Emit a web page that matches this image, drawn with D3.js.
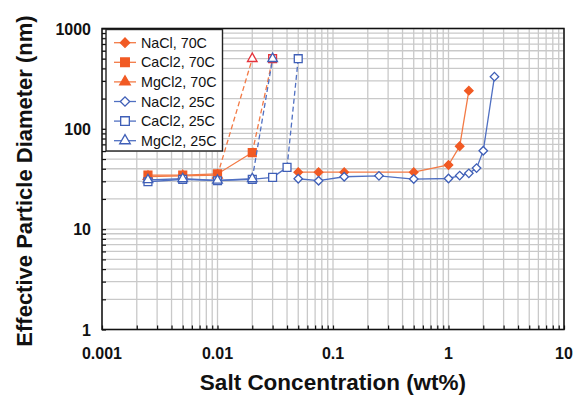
<!DOCTYPE html>
<html>
<head>
<meta charset="utf-8">
<script src="https://cdn.jsdelivr.net/npm/d3@7/dist/d3.min.js"></script>
<style>
  html, body { margin: 0; padding: 0; background: #fff; }
  svg { display: block; font-family: "Liberation Sans", Arial, sans-serif; }
</style>
</head>
<body>
<svg id="chart" width="583" height="396"></svg>
<script>
// Salt concentration (wt%) and effective particle diameter (nm) per series
const naclX70 = [0.05, 0.075, 0.125, 0.5, 1.0, 1.25, 1.5];
const naclY70 = [37, 37, 37, 37, 43.6, 67, 240];

const caclX70 = [0.0025, 0.005, 0.01, 0.02, 0.03];
const caclY70 = [34.5, 34.5, 35.5, 58, 500];

const mgclX70 = [0.0025, 0.005, 0.01, 0.02];
const mgclY70 = [33.5, 34, 34.5, 500];

const naclX25 = [0.05, 0.075, 0.125, 0.25, 0.5, 1.0, 1.25, 1.5, 1.75, 2.0, 2.5];
const naclY25 = [31.8, 30.4, 33.3, 34, 31.6, 32, 34.2, 36, 40.6, 60.5, 331];

const caclX25 = [0.0025, 0.005, 0.01, 0.02, 0.03, 0.04, 0.05];
const caclY25 = [29.7, 31.4, 30.4, 31.4, 32.8, 41.3, 500];

const mgclX25 = [0.0025, 0.005, 0.01, 0.02, 0.03];
const mgclY25 = [31, 31.8, 30.6, 31.8, 500];

const legendLabels = ["NaCl, 70C", "CaCl2, 70C", "MgCl2, 70C", "NaCl2, 25C", "CaCl2, 25C", "MgCl2, 25C"];
const xTickValues = [0.001, 0.01, 0.1, 1, 10];
const xTickLabels = ["0.001", "0.01", "0.1", "1", "10"];
const yTickValues = [1, 10, 100, 1000];
const yTickLabels = ["1", "10", "100", "1000"];

const ORANGE = "#f15a24";
const ORANGE_LINE = "#f37a45";
const RED_OPEN = "#e5333b";
const BLUE = "#3f5fb7";
const BLUE_LINE = "#5070c2";

// series styling: dashedFrom = index of first point of the dashed jump segment
const series = [
  { x: naclX70, y: naclY70, label: legendLabels[0], shape: "diamond", filled: true,  color: ORANGE, line: ORANGE_LINE, dashedFrom: null, openLast: false },
  { x: caclX70, y: caclY70, label: legendLabels[1], shape: "square",  filled: true,  color: ORANGE, line: ORANGE_LINE, dashedFrom: 3, openLast: true },
  { x: mgclX70, y: mgclY70, label: legendLabels[2], shape: "triangle",filled: true,  color: ORANGE, line: ORANGE_LINE, dashedFrom: 2, openLast: true },
  { x: naclX25, y: naclY25, label: legendLabels[3], shape: "diamond", filled: false, color: BLUE,   line: BLUE_LINE,   dashedFrom: null, openLast: false },
  { x: caclX25, y: caclY25, label: legendLabels[4], shape: "square",  filled: false, color: BLUE,   line: BLUE_LINE,   dashedFrom: 5, openLast: false },
  { x: mgclX25, y: mgclY25, label: legendLabels[5], shape: "triangle",filled: false, color: BLUE,   line: BLUE_LINE,   dashedFrom: 3, openLast: false }
];

const svg = d3.select("#chart");
const L = 102, R = 564, T = 28.5, B = 329.5;

const x = d3.scaleLog().domain([0.001, 10]).range([L, R]);
const y = d3.scaleLog().domain([1, 1000]).range([B, T]);

// minor positions 1..9 per decade
function minorValues(lo, hi) {
  const out = [];
  for (let d = lo; d < hi; d *= 10) {
    for (let k = 1; k <= 9; k++) out.push(d * k);
  }
  out.push(hi);
  return out;
}
const xMinor = minorValues(0.001, 10);
const yMinor = minorValues(1, 1000);

// grid
const grid = svg.append("g").attr("stroke", "#c9c9c9").attr("stroke-width", 1.3);
grid.selectAll("line.v").data(xMinor).join("line")
  .attr("x1", d => x(d)).attr("x2", d => x(d)).attr("y1", T).attr("y2", B);
grid.selectAll("line.h").data(yMinor).join("line")
  .attr("y1", d => y(d)).attr("y2", d => y(d)).attr("x1", L).attr("x2", R);

// axes with inward ticks, labels drawn separately
const xAxis = svg.append("g").attr("transform", `translate(0,${B})`)
  .call(d3.axisTop(x).tickValues(xMinor).tickSize(4).tickFormat(""));
xAxis.select(".domain").remove();
xAxis.selectAll(".tick line").attr("stroke", "#111").attr("stroke-width", 1.2);

const yAxis = svg.append("g").attr("transform", `translate(${L},0)`)
  .call(d3.axisRight(y).tickValues(yMinor).tickSize(4).tickFormat(""));
yAxis.select(".domain").remove();
yAxis.selectAll(".tick line").attr("stroke", "#111").attr("stroke-width", 1.2);

// frame
svg.append("rect").attr("x", L).attr("y", T).attr("width", R - L).attr("height", B - T)
  .attr("fill", "none").attr("stroke", "#111").attr("stroke-width", 1.5);

// tick labels
svg.append("g").selectAll("text").data(xTickValues).join("text")
  .attr("x", d => x(d)).attr("y", 359)
  .attr("text-anchor", "middle").attr("font-size", 16).attr("font-weight", "bold").attr("fill", "#111")
  .text((d, i) => xTickLabels[i]);
svg.append("g").selectAll("text").data(yTickValues).join("text")
  .attr("x", 91).attr("y", d => y(d) + 6)
  .attr("text-anchor", "end").attr("font-size", 16).attr("font-weight", "bold").attr("fill", "#111")
  .text((d, i) => yTickLabels[i]);

// axis titles
svg.append("text").attr("x", 333).attr("y", 390).attr("text-anchor", "middle")
  .attr("font-size", 22.5).attr("font-weight", "bold").attr("fill", "#111")
  .text("Salt Concentration (wt%)");
svg.append("text").attr("transform", "translate(32,181) rotate(-90)").attr("text-anchor", "middle")
  .attr("font-size", 22).attr("font-weight", "bold").attr("fill", "#111")
  .text("Effective Particle Diameter (nm)");

// marker shapes
function markerPath(shape, scale) {
  const s = scale || 1;
  if (shape === "diamond") return d3.symbol(d3.symbolSquare, 36 * s * s)();
  if (shape === "square") return d3.symbol(d3.symbolSquare, 62 * s * s)();
  return d3.symbol(d3.symbolTriangle, 40 * s * s)();
}
function markerTransform(shape, px, py) {
  return shape === "diamond" ? `translate(${px},${py}) rotate(45)` : `translate(${px},${py})`;
}

const plot = svg.append("g");
series.forEach(s => {
  const pts = s.x.map((v, i) => [x(v), y(s.y[i])]);
  const cut = s.dashedFrom === null ? pts.length : s.dashedFrom + 1;
  const line = d3.line();
  plot.append("path").attr("d", line(pts.slice(0, cut)))
    .attr("fill", "none").attr("stroke", s.line).attr("stroke-width", 1.3);
  if (s.dashedFrom !== null) {
    plot.append("path").attr("d", line(pts.slice(s.dashedFrom)))
      .attr("fill", "none").attr("stroke", s.line).attr("stroke-width", 1.3)
      .attr("stroke-dasharray", "5,3");
  }
  pts.forEach((p, i) => {
    const open = s.openLast && i === pts.length - 1;
    plot.append("path")
      .attr("d", markerPath(s.shape))
      .attr("transform", markerTransform(s.shape, p[0], p[1]))
      .attr("fill", s.filled && !open ? s.color : "#fff")
      .attr("stroke", open ? RED_OPEN : s.color)
      .attr("stroke-width", 1.3);
  });
});

// legend
const lg = svg.append("g");
lg.append("rect").attr("x", 106).attr("y", 29.5).attr("width", 116.5).attr("height", 121.5)
  .attr("fill", "#fff").attr("stroke", "#222").attr("stroke-width", 1.4);
series.forEach((s, i) => {
  const ly = 42.7 + i * 19.6;
  lg.append("line").attr("x1", 114).attr("x2", 136).attr("y1", ly).attr("y2", ly)
    .attr("stroke", s.line).attr("stroke-width", 1.3);
  lg.append("path").attr("d", markerPath(s.shape, 1.1))
    .attr("transform", markerTransform(s.shape, 125, ly))
    .attr("fill", s.filled ? s.color : "#fff").attr("stroke", s.color).attr("stroke-width", 1.3);
  lg.append("text").attr("x", 141).attr("y", ly + 5).attr("font-size", 14.3).attr("fill", "#111")
    .text(s.label);
});
</script>
</body>
</html>
